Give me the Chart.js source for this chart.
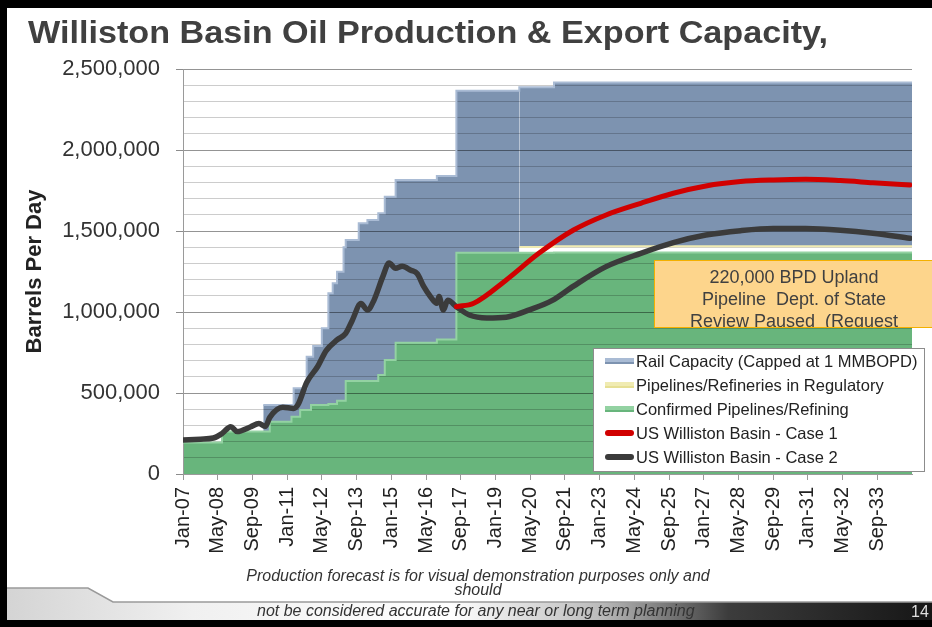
<!DOCTYPE html>
<html>
<head>
<meta charset="utf-8">
<title>Williston Basin Oil Production &amp; Export Capacity</title>
<script src="https://cdn.jsdelivr.net/npm/chart.js@4.4.1/dist/chart.umd.min.js"></script>
<style>
  html, body { margin: 0; padding: 0; background: #fff; }
  body { font-family: "Liberation Sans", Arial, sans-serif; }
  #slide { position: relative; width: 932px; height: 627px; overflow: hidden; background: #fff; }
  #chart { position: absolute; left: 0; top: 0; z-index: 1; }
  .frame { position: absolute; background: #000; z-index: 5; }
  #title { position: absolute; left: 28px; top: 17px; z-index: 3; font-weight: bold; font-size: 31px; line-height: 31px;
           color: #404040; white-space: nowrap; transform-origin: 0 0; }
  #legend { position: absolute; left: 593px; top: 348px; width: 332px; height: 124px; box-sizing: border-box;
            border: 1px solid #8c8c8c; background: #fff; z-index: 3; }
  #legend .item { position: relative; height: 24px; line-height: 24px; font-size: 16.5px; color: #222; white-space: nowrap; }
  #legend .swatch { position: absolute; left: 11px; top: 9px; width: 29px; height: 6px; box-sizing: border-box; }
  #legend .swatch.line { border-radius: 3px; }
  #legend .text { position: absolute; left: 42px; top: 0; }
  #note { position: absolute; left: 654px; top: 260px; width: 290px; height: 68px; box-sizing: border-box;
          background: #fdd58c; border: 1.5px solid #f3b000; z-index: 4; overflow: hidden;
          font-size: 18px; line-height: 22px; color: #404040; padding-top: 5px; }
  #note div { width: 278px; text-align: center; white-space: pre; }
  #footer { position: absolute; left: 0; top: 0; z-index: 2; pointer-events: none; }
  .foot { position: absolute; z-index: 3; font-style: italic; font-size: 16px; color: #333; white-space: nowrap; }
  #page { position: absolute; left: 911px; top: 603px; z-index: 3; font-size: 16px; color: #dedede; }
</style>
</head>
<body>
<div id="slide">
  <div class="frame" style="left:0;top:0;width:932px;height:8px"></div>
  <div class="frame" style="left:0;top:0;width:7px;height:627px"></div>
  <div class="frame" style="left:0;top:620px;width:932px;height:7px"></div>

  <div id="title">Williston Basin Oil Production &amp; Export Capacity,</div>

  <canvas id="chart" width="932" height="627"></canvas>

  <div id="legend"></div>

  <div id="note">
    <div>220,000 BPD Upland</div>
    <div>Pipeline  Dept. of State</div>
    <div>Review Paused  (Request</div>
  </div>

  <svg id="footer" width="932" height="627">
    <defs>
      <linearGradient id="band" x1="0" x2="1" y1="0" y2="0">
        <stop offset="0" stop-color="#d4d4d4"/>
        <stop offset="0.2" stop-color="#f0f0f0"/>
        <stop offset="0.48" stop-color="#ffffff"/>
        <stop offset="0.64" stop-color="#bcbcbc"/>
        <stop offset="0.78" stop-color="#3c3c3c"/>
        <stop offset="1" stop-color="#161616"/>
      </linearGradient>
    </defs>
    <polygon points="7,588 88,588 113,602 932,602 932,620 7,620" fill="url(#band)"/>
    <polyline points="7,588 88,588 113,602 932,602" fill="none" stroke="#9a9a9a" stroke-width="1.5"/>
  </svg>

  <div class="foot" style="left:178px;top:567px;width:600px;text-align:center">Production forecast is for visual demonstration purposes only and</div>
  <div class="foot" style="left:178px;top:581px;width:600px;text-align:center">should</div>
  <div class="foot" style="left:257px;top:602px">not be considered accurate for any near or long term planning</div>
  <div id="page">14</div>
</div>

<script>
// x axis is monthly, Jan-07 .. Dec-34
const xTickLabels = ['Jan-07', 'May-08', 'Sep-09', 'Jan-11', 'May-12', 'Sep-13', 'Jan-15', 'May-16', 'Sep-17', 'Jan-19',
    'May-20', 'Sep-21', 'Jan-23', 'May-24', 'Sep-25', 'Jan-27', 'May-28', 'Sep-29', 'Jan-31', 'May-32', 'Sep-33'];

// export capacity steps (stacked): confirmed + regulatory + rail
const capDates = ['2007-01', '2008-07', '2010-02', '2010-05', '2011-03', '2011-04', '2011-07', '2011-10', '2011-12',
    '2012-01', '2012-05', '2012-08', '2012-10', '2012-12', '2013-03', '2013-04', '2013-10', '2014-02', '2014-07',
    '2014-10', '2015-03', '2016-10', '2017-07', '2019-12', '2021-04', '2035-01'];
const confirmedValues = [195000, 262000, 262000, 323000, 354000, 354000, 395000, 395000, 426000,
    426000, 426000, 432000, 432000, 452000, 452000, 574000, 574000, 574000, 611000,
    704000, 810000, 831000, 1366000, 1366000, 1368000, 1368000];
const regulatoryValues = [0, 0, 0, 0, 0, 0, 0, 0, 0,
    0, 0, 0, 0, 0, 0, 0, 0, 0, 0,
    0, 0, 0, 0, 35000, 38000, 38000];
const railValues = [0, 0, 164000, 103000, 72000, 175000, 134000, 329000, 298000,
    364000, 474000, 683000, 745000, 797000, 948000, 870000, 974000, 994000, 998000,
    1008000, 1005000, 1009000, 999000, 986000, 1010000, 1010000];

// production
const case2Dates = ['2007-01', '2007-09', '2008-03', '2008-07', '2008-11', '2009-02', '2009-08', '2009-12', '2010-03',
    '2010-05', '2010-11', '2011-04', '2011-06', '2011-10', '2012-03', '2012-07', '2012-12', '2013-04', '2013-07',
    '2013-11', '2014-02', '2014-05', '2014-09', '2014-12', '2015-03', '2015-06', '2015-10', '2016-01', '2016-04',
    '2016-07', '2016-10', '2016-11', '2017-01', '2017-03', '2017-07', '2018-01', '2018-09', '2019-06', '2020-05',
    '2021-03', '2022-01', '2023-04', '2024-08', '2025-11', '2027-02', '2028-06', '2029-09', '2030-12', '2032-04',
    '2033-07', '2034-12'];
const case2Values = [210000, 215000, 222000, 250000, 292000, 262000, 290000, 312000, 294000,
    350000, 412000, 405000, 428000, 565000, 662000, 762000, 828000, 868000, 948000,
    1052000, 1012000, 1072000, 1215000, 1302000, 1270000, 1282000, 1258000, 1236000, 1156000,
    1096000, 1054000, 1095000, 1012000, 1072000, 1033000, 981000, 963000, 968000, 1015000,
    1070000, 1160000, 1280000, 1362000, 1428000, 1475000, 1502000, 1515000, 1515000, 1505000,
    1486000, 1455000];
const case1Dates = ['2017-07', '2018-03', '2019-06', '2020-09', '2022-01', '2023-04', '2024-08', '2025-11',
    '2027-02', '2028-06', '2029-09', '2030-12', '2032-04', '2033-07', '2034-12'];
const case1Values = [1033000, 1054000, 1198000, 1362000, 1506000, 1599000, 1671000, 1733000,
    1778000, 1805000, 1815000, 1819000, 1811000, 1798000, 1784000];

function monthIndex(s) {
    const [y, m] = s.split('-').map(Number);
    return (y - 2007) * 12 + (m - 1);
}
function points(dates, values) {
    return dates.map((d, i) => ({ x: monthIndex(d), y: values[i] }));
}

Chart.defaults.font.family = '"Liberation Sans", Arial, sans-serif';
Chart.defaults.color = '#333';

const hideZero = values => ({ borderColor: c => values[c.p0DataIndex] > 0 ? undefined : 'rgba(0,0,0,0)' });

const chart = new Chart(document.getElementById('chart'), {
    type: 'line',
    data: {
        datasets: [
            {
                label: 'Confirmed Pipelines/Refining',
                data: points(capDates, confirmedValues),
                stack: 'capacity', stepped: true, fill: 'origin', order: 1,
                backgroundColor: '#68b57c', borderColor: '#93d2a2', borderWidth: 2
            },
            {
                label: 'Pipelines/Refineries in Regulatory',
                data: points(capDates, regulatoryValues),
                stack: 'capacity', stepped: true, fill: '-1', order: 1,
                backgroundColor: '#e6df93', borderColor: '#f0ebb2', borderWidth: 2,
                segment: hideZero(regulatoryValues)
            },
            {
                label: 'Rail Capacity (Capped at 1 MMBOPD)',
                data: points(capDates, railValues),
                stack: 'capacity', stepped: true, fill: '-1', order: 1,
                backgroundColor: '#7d93b0', borderColor: '#a9bbd4', borderWidth: 2,
                segment: hideZero(railValues)
            },
            {
                label: 'US Williston Basin - Case 1',
                data: points(case1Dates, case1Values),
                stack: 'case1', fill: false, order: 0,
                borderColor: '#d10000', borderWidth: 5, cubicInterpolationMode: 'monotone',
                borderCapStyle: 'round', borderJoinStyle: 'round'
            },
            {
                label: 'US Williston Basin - Case 2',
                data: points(case2Dates, case2Values),
                stack: 'case2', fill: false, order: 0,
                borderColor: '#3b3b3b', borderWidth: 5.5, cubicInterpolationMode: 'monotone',
                borderCapStyle: 'round', borderJoinStyle: 'round'
            }
        ]
    },
    options: {
        responsive: false,
        animation: false,
        layout: { padding: { left: 18, right: 20, top: 69, bottom: 60 } },
        elements: { point: { radius: 0 } },
        plugins: {
            legend: { display: false },
            tooltip: { enabled: false },
            filler: { drawTime: 'beforeDraw' }
        },
        scales: {
            x: {
                type: 'linear',
                min: 0,
                max: 336,
                afterFit: s => { s.height = 93; },
                border: { color: '#9a9a9a' },
                grid: { drawOnChartArea: false, color: '#9a9a9a', tickLength: 6 },
                ticks: {
                    stepSize: 16,
                    autoSkip: false,
                    minRotation: 90,
                    maxRotation: 90,
                    padding: 7,
                    color: '#222',
                    font: { size: 20 },
                    callback: v => xTickLabels[v / 16] ?? null
                }
            },
            y: {
                stacked: true,
                min: 0,
                max: 2500000,
                afterFit: s => { s.width = 165; },
                border: { color: '#9a9a9a' },
                grid: {
                    color: c => c.tick && c.tick.value % 500000 === 0 ? 'rgba(0,0,0,0.42)' : 'rgba(0,0,0,0.2)',
                    tickColor: c => c.tick && c.tick.value % 500000 === 0 ? '#8c8c8c' : 'rgba(0,0,0,0)',
                    tickLength: 7
                },
                ticks: {
                    stepSize: 100000,
                    autoSkip: false,
                    padding: 16,
                    color: '#333',
                    font: { size: 22 },
                    callback: v => v % 500000 === 0 ? v.toLocaleString('en-US') : ''
                },
                title: {
                    display: true,
                    text: 'Barrels Per Day',
                    color: '#222',
                    font: { size: 22, weight: 'bold' }
                }
            }
        }
    }
});

// legend in the order of the slide
const legendEl = document.getElementById('legend');
[2, 1, 0, 3, 4].forEach(i => {
    const ds = chart.data.datasets[i];
    const row = document.createElement('div');
    row.className = 'item';
    const sw = document.createElement('span');
    sw.className = ds.fill ? 'swatch' : 'swatch line';
    sw.style.background = ds.borderColor;
    if (ds.fill) sw.style.borderBottom = '2px solid ' + ds.backgroundColor;
    const tx = document.createElement('span');
    tx.className = 'text';
    tx.textContent = ds.label;
    row.appendChild(sw);
    row.appendChild(tx);
    legendEl.appendChild(row);
});

const title = document.getElementById('title');
title.style.transform = 'scaleX(' + (800 / title.offsetWidth) + ')';
</script>
</body>
</html>
